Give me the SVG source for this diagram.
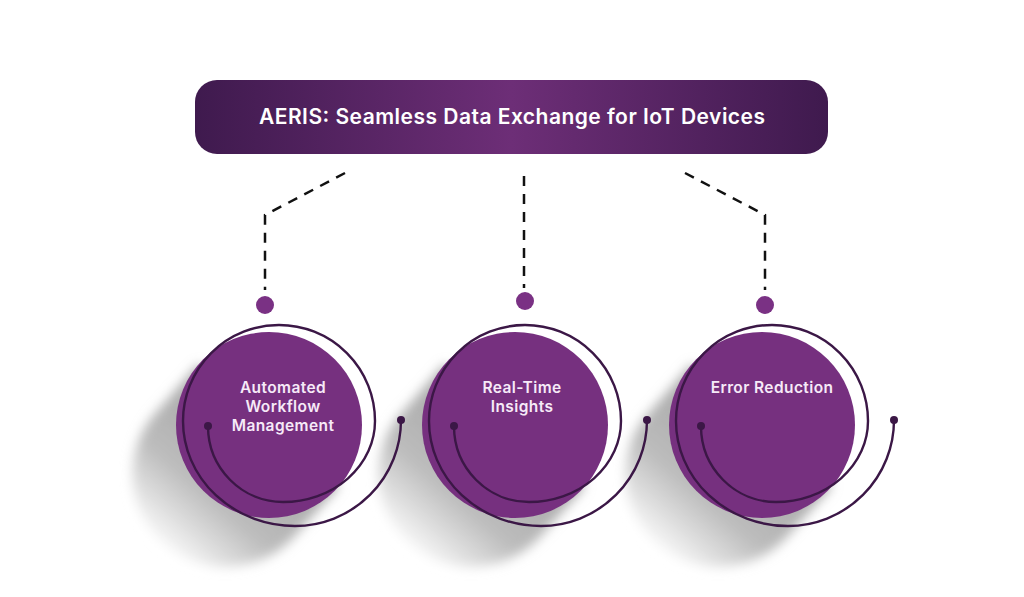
<svg xmlns="http://www.w3.org/2000/svg" width="1024" height="597" viewBox="0 0 1024 597">
  <style>
    .title { font-family: Inter, "Open Sans", "Liberation Sans", sans-serif; font-weight: 600; font-size: 21px; fill: #ffffff; text-anchor: middle; }
    .label { font-family: Inter, "Open Sans", "Liberation Sans", sans-serif; font-weight: 600; font-size: 15.5px; letter-spacing: 0.4px; fill: #f6eaf8; text-anchor: middle; }
    .fill { fill: #76307f; }
    .spiral { fill: none; stroke: #3b1746; stroke-width: 2.4; stroke-linecap: round; }
    .end { fill: #3b1746; }
    .dash { fill: none; stroke: #111111; stroke-width: 2.5; stroke-dasharray: 10 8; }
    .dot { fill: #7a3184; }
  </style>
  <defs>
    <linearGradient id="barGrad" x1="0" y1="0" x2="1" y2="0">
      <stop offset="0" stop-color="#3f1a4e"/>
      <stop offset="0.5" stop-color="#6d2e77"/>
      <stop offset="1" stop-color="#3f1a4e"/>
    </linearGradient>
    <linearGradient id="shadowGrad" gradientUnits="userSpaceOnUse" x1="0" y1="425" x2="-110" y2="552">
      <stop offset="0" stop-color="#a5a5a5"/>
      <stop offset="0.55" stop-color="#bcbcbc"/>
      <stop offset="1" stop-color="#ffffff"/>
    </linearGradient>
    <filter id="soft" x="-30%" y="-30%" width="160%" height="160%">
      <feGaussianBlur stdDeviation="6"/>
    </filter>
    <g id="shadowShape">
      <path d="M -70 364 L -117 417 A 93 93 0 0 0 23 539 L 70 486 Z" fill="url(#shadowGrad)" filter="url(#soft)"/>
    </g>
    <path id="spiralPath" class="spiral" d="M -61 426 A 75 76 0 0 0 14 502 A 92 81 0 0 0 106 421 A 96 96 0 0 0 10 325 A 96 96 0 0 0 -86 421 A 112 105 0 0 0 26 526 A 106 106 0 0 0 132 420"/>
  </defs>

  <rect width="1024" height="597" fill="#ffffff"/>

  <g id="title">
    <rect x="195" y="80" width="633" height="74" rx="22" fill="url(#barGrad)"/>
    <text class="title" x="512" y="124" textLength="506" lengthAdjust="spacing">AERIS: Seamless Data Exchange for IoT Devices</text>
  </g>

  <g id="connectors">
    <polyline class="dash" points="345,173 265,215 265,290"/>
    <line class="dash" x1="524" y1="176" x2="524" y2="288"/>
    <polyline class="dash" points="685,173 765,215 765,290"/>
    <circle class="dot" cx="265" cy="305" r="9"/>
    <circle class="dot" cx="525" cy="301" r="9"/>
    <circle class="dot" cx="765" cy="305" r="9"/>
  </g>

  <g id="node-error-reduction" transform="translate(762,0)">
    <use href="#shadowShape"/>
    <circle class="fill" cx="0" cy="425" r="93"/>
    <use href="#spiralPath"/>
    <circle class="end" cx="-61" cy="426" r="4"/>
    <circle class="end" cx="132" cy="420" r="4"/>
    <text class="label" x="10" y="393">Error Reduction</text>
  </g>

  <g id="node-real-time-insights" transform="translate(515,0)">
    <use href="#shadowShape"/>
    <circle class="fill" cx="0" cy="425" r="93"/>
    <use href="#spiralPath"/>
    <circle class="end" cx="-61" cy="426" r="4"/>
    <circle class="end" cx="132" cy="420" r="4"/>
    <text class="label" x="7" y="393">Real-Time</text>
    <text class="label" x="7" y="412">Insights</text>
  </g>

  <g id="node-automated-workflow" transform="translate(269,0)">
    <use href="#shadowShape"/>
    <circle class="fill" cx="0" cy="425" r="93"/>
    <use href="#spiralPath"/>
    <circle class="end" cx="-61" cy="426" r="4"/>
    <circle class="end" cx="132" cy="420" r="4"/>
    <text class="label" x="14" y="393">Automated</text>
    <text class="label" x="14" y="412">Workflow</text>
    <text class="label" x="14" y="431">Management</text>
  </g>
</svg>
